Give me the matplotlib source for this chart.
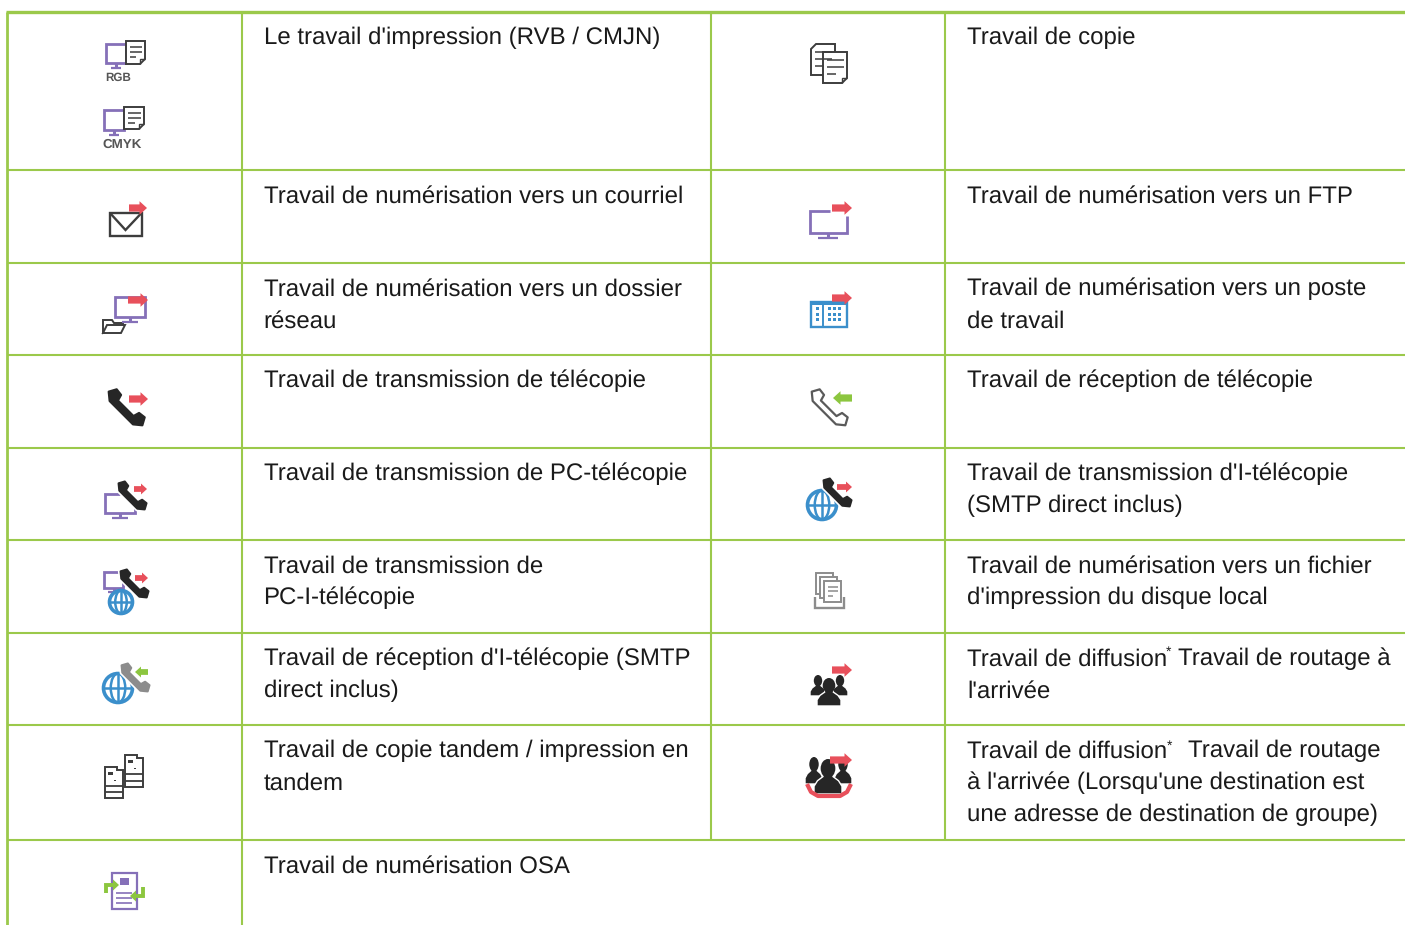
# Table of job icons, drawn in pixel coordinates

import numpy as np
import matplotlib
matplotlib.use('Agg')
import matplotlib.pyplot as plt
from matplotlib.patches import Polygon, Rectangle, Circle, Ellipse

plt.rcParams['font.family'] = ['Liberation Sans', 'DejaVu Sans']
plt.rcParams['text.hinting'] = 'no_hinting'

LEFT_TEXTS = [
    ["Le travail d'impression (RVB / CMJN)"],
    ["Travail de numérisation vers un courriel"],
    ["Travail de numérisation vers un dossier", "réseau"],
    ["Travail de transmission de télécopie"],
    ["Travail de transmission de PC-télécopie"],
    ["Travail de transmission de", "PC-I-télécopie"],
    ["Travail de réception d'I-télécopie (SMTP", "direct inclus)"],
    ["Travail de copie tandem / impression en", "tandem"],
    ["Travail de numérisation OSA"],
]
RIGHT_TEXTS = [
    ["Travail de copie"],
    ["Travail de numérisation vers un FTP"],
    ["Travail de numérisation vers un poste", "de travail"],
    ["Travail de réception de télécopie"],
    ["Travail de transmission d'I-télécopie", "(SMTP direct inclus)"],
    ["Travail de numérisation vers un fichier", "d'impression du disque local"],
    ["Travail de diffusion", "l'arrivée"],
    ["Travail de diffusion", "à l'arrivée (Lorsqu'une destination est", "une adresse de destination de groupe)"],
]
ROW_LINES = [12, 170, 263, 355, 448, 540, 633, 725, 840]

GREEN_LINE = '#9bc94b'
TEXT = '#1a1a1a'
PURPLE = '#8570b8'
RED = '#e8505b'
GREEN = '#8cc63f'
BLUE = '#3b8fcb'
DARK = '#3d3d3d'
BLACK = '#262626'
GRAY = '#8c8c8c'


def seg(ax, xs, ys, color=DARK, lw=1.4, zorder=2):
    ax.plot(xs, ys, color=color, lw=lw, solid_capstyle='butt', solid_joinstyle='miter', zorder=zorder)


def box(ax, x0, y0, x1, y1, color=DARK, lw=1.4, face='white'):
    ax.add_patch(Rectangle((x0, y0), x1 - x0, y1 - y0, fc=face, ec=color, lw=lw, joinstyle='miter'))


def arrow(ax, tail, tip, y, color=RED, size=1.0):
    sign = 1 if tip > tail else -1
    neck = tip - sign * 7.5 * size
    pts = [(tail, y - 3.6 * size), (neck, y - 3.6 * size), (neck, y - 6.8 * size), (tip, y),
           (neck, y + 6.8 * size), (neck, y + 3.6 * size), (tail, y + 3.6 * size)]
    ax.add_patch(Polygon(pts, fc=color, ec='none', zorder=5))


def monitor(ax, x0, y0, x1, y1, stand, gap=None):
    lw = 2.0
    if gap is None:
        box(ax, x0, y0, x1, y1, PURPLE, lw)
    else:
        ax.add_patch(Rectangle((x0, y0), x1 - x0, y1 - y0, fc='white', ec='none'))
        seg(ax, [gap[0], x0, x0, x1, x1], [y0, y0, y1, y1, gap[1]], PURPLE, lw)
    cx = (x0 + x1) / 2
    seg(ax, [cx, cx], [y1, stand], PURPLE, 2.2)
    seg(ax, [cx - (x1 - x0) * 0.27, cx + (x1 - x0) * 0.27], [stand, stand], PURPLE, 1.6)


def doc(ax, x0, y0, x1, y1, color=DARK, lw=1.4, nlines=3, corner='br'):
    c = 5
    if corner == 'br':
        pts = [(x0, y0), (x1, y0), (x1, y1 - c), (x1 - c, y1), (x0, y1)]
    elif corner == 'tl':
        pts = [(x0 + c, y0), (x1, y0), (x1, y1), (x0, y1), (x0, y0 + c)]
    else:
        pts = [(x0, y0), (x1, y0), (x1, y1), (x0, y1)]
    ax.add_patch(Polygon(pts, fc='white', ec=color, lw=lw, joinstyle='miter'))
    if corner == 'br':
        seg(ax, [x1 - c, x1 - c, x1], [y1, y1 - c, y1 - c], color, 1.0)
    h = y1 - y0
    for i in range(nlines):
        frac = 0.27 + i * 0.22
        xe = x1 - 3.5 if i < nlines - 1 else x0 + (x1 - x0) * 0.55
        seg(ax, [x0 + 3.5, xe], [y0 + h * frac] * 2, color, 1.1)


def phone(ax, cx, cy, half, color=BLACK, filled=True, halo=True):
    local = np.array([(-1.08, -0.03), (-0.75, -0.3), (0.75, -0.3), (1.08, -0.03), (0.9, 0.3),
                      (0.58, 0.26), (0.5, -0.02), (-0.5, -0.02), (-0.58, 0.26), (-0.9, 0.3)]) * half
    d = np.array([1, 1]) / np.sqrt(2)
    n = np.array([1, -1]) / np.sqrt(2)
    pts = np.array([cx, cy]) + local[:, :1] * d + local[:, 1:] * n
    if halo:
        ax.add_patch(Polygon(pts, fc='white', ec='white', lw=4, joinstyle='round', zorder=4))
    face = color if filled else 'white'
    ax.add_patch(Polygon(pts, fc=face, ec=color, lw=1.6, joinstyle='round', zorder=4))


def globe(ax, cx, cy, r):
    ax.add_patch(Circle((cx, cy), r, fc='white', ec=BLUE, lw=2.6, zorder=3))
    ax.add_patch(Ellipse((cx, cy), r, 2 * r, fc='none', ec=BLUE, lw=1.8, zorder=3))
    seg(ax, [cx, cx], [cy - r, cy + r], BLUE, 1.8, zorder=3)
    seg(ax, [cx - r, cx + r], [cy, cy], BLUE, 1.8, zorder=3)


def person(ax, cx, top, bottom, w, edge='white'):
    h = bottom - top
    pts = [(cx - w, bottom), (cx - w, bottom - h * 0.22), (cx - w * 0.75, bottom - h * 0.38),
           (cx - w * 0.35, bottom - h * 0.5), (cx - w * 0.35, top + h * 0.3),
           (cx + w * 0.35, top + h * 0.3), (cx + w * 0.35, bottom - h * 0.5),
           (cx + w * 0.75, bottom - h * 0.38), (cx + w, bottom - h * 0.22), (cx + w, bottom)]
    ax.add_patch(Polygon(pts, fc=BLACK, ec=edge, lw=1.0, joinstyle='round', zorder=3))
    ax.add_patch(Ellipse((cx, top + h * 0.27), w * 1.05, h * 0.54, fc=BLACK, ec='none', zorder=3))


def printer(ax, x0, y0, x1, y1):
    pts = [(x0, y0), (x1 - 6, y0), (x1 - 6, y0 + 3), (x1, y0 + 3), (x1, y1), (x0, y1)]
    ax.add_patch(Polygon(pts, fc='white', ec=DARK, lw=1.4, joinstyle='miter'))
    ax.add_patch(Rectangle((x0 + 3, y0 + 5), 5, 3, fc=DARK, ec='none'))
    ax.add_patch(Rectangle((x0 + 9, y0 + 12.5), 1.6, 1.6, fc=DARK, ec='none'))
    for frac in (0.6, 0.8):
        y = y0 + (y1 - y0) * frac
        seg(ax, [x0, x1], [y, y], DARK, 1.3)


def bent_arrow(ax, xs, ys, tip_x):
    seg(ax, xs, ys, GREEN, 2.8, zorder=5)
    sign = 1 if xs[-1] < tip_x else -1
    y = ys[-1]
    ax.add_patch(Polygon([(tip_x - sign * 6, y - 5.5), (tip_x, y), (tip_x - sign * 6, y + 5.5)],
                         fc=GREEN, ec='none', zorder=5))


def draw_icons(ax):
    # print jobs
    monitor(ax, 106, 44, 126, 63, 68)
    doc(ax, 126, 41, 145, 64)
    ax.text(118.5, 77.5, 'RGB', fontsize=8.4, fontweight='bold', color='#555555', ha='center', va='center')
    monitor(ax, 104, 110, 124, 130, 135)
    doc(ax, 124, 107, 144, 129)
    ax.text(122, 144.5, 'CMYK', fontsize=9.6, fontweight='bold', color='#555555', ha='center', va='center')

    # copy
    doc(ax, 811, 44, 835, 75, corner='tl')
    doc(ax, 823, 52, 847, 83)

    # mail
    box(ax, 109.5, 212.5, 142, 236, DARK, 1.7)
    seg(ax, [110, 125.5, 141.5], [213, 230, 213], DARK, 1.7)
    arrow(ax, 129, 147, 208)

    # ftp
    monitor(ax, 809.5, 211, 847, 233, 238, gap=(830, 216))
    arrow(ax, 832, 852, 208)

    # folder
    monitor(ax, 115, 297, 145, 317, 322)
    arrow(ax, 128, 148, 300)
    ax.add_patch(Polygon([(103, 333), (103, 320), (112, 320), (114, 323), (123, 323), (123, 326)],
                         fc='white', ec=DARK, lw=1.4))
    ax.add_patch(Polygon([(103, 333), (107, 325), (125, 325), (121, 333)], fc='white', ec=DARK, lw=1.4))

    # workstation
    box(ax, 811, 302, 847, 327, BLUE, 1.7)
    ax.add_patch(Rectangle((811, 301), 36, 4, fc=BLUE, ec='none'))
    seg(ax, [823, 823], [302, 327], BLUE, 1.4)
    for y in (308, 314, 319.5):
        ax.add_patch(Rectangle((815.5, y - 1.5), 3, 3, fc=BLUE, ec='none'))
        for x in (829, 834, 839):
            ax.add_patch(Rectangle((x - 1.5, y - 1.5), 3, 3, fc=BLUE, ec='none'))
    arrow(ax, 832, 852, 298)

    # fax send / receive
    phone(ax, 126, 408, 22)
    arrow(ax, 129, 148, 399)
    phone(ax, 829, 408, 22, color='#5a5a5a', filled=False)
    arrow(ax, 852, 833, 398, color=GREEN)

    # pc fax
    monitor(ax, 105, 494, 135, 513, 518, gap=(120, 505))
    phone(ax, 132, 496, 17)
    arrow(ax, 134, 147, 489, size=0.8)

    # i-fax
    globe(ax, 822, 505, 14.5)
    phone(ax, 837, 493, 17)
    arrow(ax, 837, 852, 487, size=0.8)

    # pc i-fax
    monitor(ax, 104, 572, 123, 588, 592)
    globe(ax, 121, 602, 11.5)
    phone(ax, 134, 584, 17)
    arrow(ax, 135, 148, 578, size=0.8)

    # hdd file
    box(ax, 816, 573, 833, 594, GRAY, 1.4)
    box(ax, 820, 577, 837, 598, GRAY, 1.4)
    doc(ax, 824, 581, 841, 602, GRAY, 1.4, corner='none')
    seg(ax, [814.5, 814.5, 844, 844], [597, 608, 608, 597], GRAY, 1.7)

    # i-fax receive
    globe(ax, 118, 688, 14.5)
    phone(ax, 135, 678, 17, color=GRAY)
    arrow(ax, 148, 135, 672, color=GREEN, size=0.8)

    # tandem
    printer(ax, 125, 755, 143, 787)
    printer(ax, 105, 767, 123, 798)

    # broadcast
    person(ax, 818, 675, 696, 8)
    person(ax, 840, 675, 696, 8)
    person(ax, 829, 678, 706, 12)
    arrow(ax, 832, 852, 670)

    # broadcast to group
    person(ax, 814, 757, 784, 9)
    person(ax, 843, 757, 784, 9)
    person(ax, 828, 759, 794, 14)
    arrow(ax, 830, 852, 760)
    ax.plot([807, 811, 818, 840, 847, 851], [784, 792, 796, 796, 792, 784], color=RED, lw=3,
            solid_joinstyle='round', solid_capstyle='butt', zorder=6)

    # osa
    box(ax, 112, 873, 137, 909, PURPLE, 1.6)
    ax.add_patch(Rectangle((120, 878), 9, 6.5, fc=PURPLE, ec='none'))
    for y in (893, 898, 903):
        seg(ax, [116, 132], [y, y], PURPLE, 1.2)
    bent_arrow(ax, [106, 106, 114], [893, 885, 885], 119)
    bent_arrow(ax, [142.5, 142.5, 135], [887, 896, 896], 130)


def main():
    fig = plt.figure(figsize=(14.05, 9.25), dpi=100)
    ax = fig.add_axes([0, 0, 1, 1])
    ax.set_xlim(0, 1405)
    ax.set_ylim(925, 0)
    ax.axis('off')

    # grid of the table
    ax.plot([5.5, 1405], [12, 12], color=GREEN_LINE, lw=2.4, solid_capstyle='butt')
    for y in ROW_LINES[1:]:
        ax.plot([7, 1405], [y, y], color=GREEN_LINE, lw=1.5, solid_capstyle='butt')
    ax.plot([7, 7], [12, 925], color=GREEN_LINE, lw=2.0, solid_capstyle='butt')
    ax.plot([242, 242], [12, 925], color=GREEN_LINE, lw=1.5, solid_capstyle='butt')
    ax.plot([711, 711], [12, 840], color=GREEN_LINE, lw=1.5, solid_capstyle='butt')
    ax.plot([945, 945], [12, 840], color=GREEN_LINE, lw=1.5, solid_capstyle='butt')

    fs = 17.28
    for top, lines in zip(ROW_LINES, LEFT_TEXTS):
        for i, line in enumerate(lines):
            ax.text(263.5, top + 32.5 + i * 32, line, fontsize=fs, color=TEXT, va='baseline')
    for top, lines in zip(ROW_LINES, RIGHT_TEXTS):
        for i, line in enumerate(lines):
            ax.text(967, top + 32.5 + i * 32, line, fontsize=fs, color=TEXT, va='baseline')

    # the pieces after the superscript star
    ax.text(1166, ROW_LINES[6] + 23, '*', fontsize=10, color=TEXT, va='baseline')
    ax.text(1178, ROW_LINES[6] + 32.5, 'Travail de routage à', fontsize=fs, color=TEXT, va='baseline')
    ax.text(1166.5, ROW_LINES[7] + 25, '*', fontsize=10, color=TEXT, va='baseline')
    ax.text(1188, ROW_LINES[7] + 32.5, 'Travail de routage', fontsize=fs, color=TEXT, va='baseline')

    draw_icons(ax)
    fig.savefig('out.png', dpi=100)


if __name__ == "__main__":
    main()
